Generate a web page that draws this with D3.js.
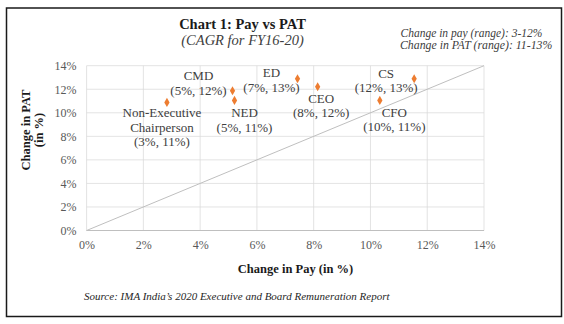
<!DOCTYPE html>
<html><head><meta charset="utf-8">
<script src="https://cdn.jsdelivr.net/npm/d3@7"></script>
<style>body{margin:0;background:#fff}svg{display:block}</style>
</head><body>
<script>
const roles = ["Non-Executive Chairperson","CMD","NED","ED","CEO","CS","CFO"];
const payChange = [2.83, 5.14, 5.21, 7.43, 8.14, 11.54, 10.33];
const patChange = [10.88, 11.87, 11.05, 12.89, 12.21, 12.89, 11.05];
const labelLines = [["Non-Executive","Chairperson","(3%, 11%)"],["CMD","(5%, 12%)"],["NED","(5%, 11%)"],["ED","(7%, 13%)"],["CEO","(8%, 12%)"],["CS","(12%, 13%)"],["CFO","(10%, 11%)"]];
const xTicks = [0,2,4,6,8,10,12,14];
const yTicks = [0,2,4,6,8,10,12,14];

const W=564,H=324;
const serif = "'Liberation Serif','Times New Roman',serif";
const svg = d3.select("body").append("svg").attr("width",W).attr("height",H);
svg.append("rect").attr("width",W).attr("height",H).attr("fill","#fff");
svg.append("rect").attr("x",6.5).attr("y",8).attr("width",555).attr("height",308.5)
  .attr("fill","none").attr("stroke","#1a1a1a").attr("stroke-width",1.5);

const x = d3.scaleLinear().domain([0,14]).range([86.6,484]);
const y = d3.scaleLinear().domain([0,14]).range([230.5,65.7]);

const g = svg.append("g");
g.selectAll(".vg").data(xTicks).join("line")
  .attr("x1",d=>x(d)).attr("x2",d=>x(d)).attr("y1",y(0)).attr("y2",y(14))
  .attr("stroke","#d9d9d9").attr("stroke-width",0.75);
g.selectAll(".hg").data(yTicks).join("line")
  .attr("x1",x(0)).attr("x2",x(14)).attr("y1",d=>y(d)).attr("y2",d=>y(d))
  .attr("stroke","#d9d9d9").attr("stroke-width",0.75);
g.append("line").attr("x1",x(0)).attr("x2",x(14)).attr("y1",y(0)).attr("y2",y(0))
  .attr("stroke","#bfbfbf").attr("stroke-width",1);

const xAxis = d3.axisBottom(x).tickValues(xTicks).tickFormat(d=>d+"%").tickSize(0).tickPadding(0);
const xa = svg.append("g").attr("transform",`translate(0,${y(0)})`).call(xAxis);
xa.select(".domain").remove();
xa.selectAll("text").attr("dy",null).attr("y",18.5).attr("font-family",serif).attr("font-size","12px").attr("fill","#595959");
const yAxis = d3.axisLeft(y).tickValues(yTicks).tickFormat(d=>d+"%").tickSize(0).tickPadding(0);
const ya = svg.append("g").attr("transform",`translate(${x(0)-10},0)`).call(yAxis);
ya.select(".domain").remove();
ya.selectAll("text").attr("dy","0.32em").attr("font-family",serif).attr("font-size","12px").attr("fill","#595959");

g.append("line").attr("x1",x(0)).attr("y1",y(0)).attr("x2",x(14)).attr("y2",y(14))
  .attr("stroke","#bfbfbf").attr("stroke-width",1);

const pts = roles.map((r,i)=>({r,px:payChange[i],py:patChange[i],lines:labelLines[i]}));
svg.selectAll(".pt").data(pts).join("path")
  .attr("transform",d=>`translate(${x(d.px)},${y(d.py)})`)
  .attr("d",d3.symbol(d3.symbolDiamond,24)())
  .attr("fill","#ED7D31");

const offs = [[-5,10.5],[-34,-15],[10,12.5],[-26,-6],[3.5,11.5],[-28,-5.5],[14.5,12]];
const lab = svg.selectAll(".lab").data(pts).join("text")
  .attr("font-family",serif).attr("font-size","13px").attr("fill","#404040").attr("text-anchor","middle");
lab.each(function(d,i){
  const t=d3.select(this);
  const cx=x(d.px)+offs[i][0], cy=y(d.py)+offs[i][1];
  d.lines.forEach((ln,j)=>{
    t.append("tspan").attr("x",cx).attr("y",cy+j*14.5+4.5).text(ln);
  });
});

svg.append("text").attr("x",242.5).attr("y",29).attr("text-anchor","middle")
  .attr("font-family",serif).attr("font-weight","bold").attr("font-size","14.5px").attr("fill","#1a1a1a")
  .text("Chart 1: Pay vs PAT");
svg.append("text").attr("x",242.5).attr("y",44.5).attr("text-anchor","middle")
  .attr("font-family",serif).attr("font-style","italic").attr("font-size","14.5px").attr("fill","#404040")
  .text("(CAGR for FY16-20)");
svg.append("text").attr("x",400.5).attr("y",36.5)
  .attr("font-family",serif).attr("font-style","italic").attr("font-size","11.5px").attr("fill","#404040")
  .text("Change in pay (range): 3-12%");
svg.append("text").attr("x",400).attr("y",48.5)
  .attr("font-family",serif).attr("font-style","italic").attr("font-size","11.8px").attr("fill","#404040")
  .text("Change in PAT (range): 11-13%");

svg.append("text").attr("x",295.5).attr("y",272.5).attr("text-anchor","middle")
  .attr("font-family",serif).attr("font-weight","bold").attr("font-size","12.5px").attr("fill","#1a1a1a")
  .text("Change in Pay (in %)");
const yt = svg.append("text").attr("transform","translate(0,130) rotate(-90)").attr("text-anchor","middle")
  .attr("font-family",serif).attr("font-weight","bold").attr("font-size","12.5px").attr("fill","#1a1a1a");
yt.append("tspan").attr("x",0).attr("y",29.5).text("Change in PAT");
yt.append("tspan").attr("x",0).attr("y",43).text("(in %)");

svg.append("text").attr("x",84).attr("y",299.5)
  .attr("font-family",serif).attr("font-style","italic").attr("font-size","11px").attr("fill","#262626")
  .text("Source: IMA India’s 2020 Executive and Board Remuneration Report");
</script>
</body></html>
